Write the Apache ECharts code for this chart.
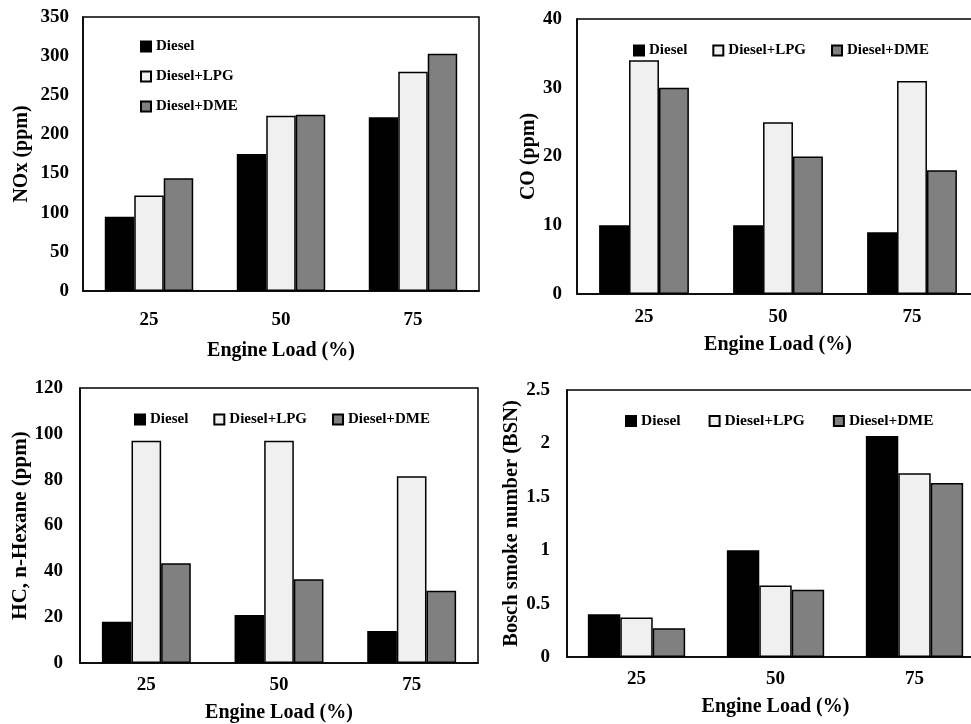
<!DOCTYPE html>
<html><head><meta charset="utf-8">
<script src="https://cdn.jsdelivr.net/npm/echarts@6/dist/echarts.min.js"></script>
<style>html,body{margin:0;padding:0;background:#fff}#c{width:971px;height:724px}</style>
</head><body><div id="c"></div>
<script>
const categories = ['25', '50', '75'];
const seriesNames = ['Diesel', 'Diesel+LPG', 'Diesel+DME'];
// NOx (ppm)
const noxDiesel = [95, 175, 222];
const noxLPG = [122, 224, 280];
const noxDME = [144, 225, 303];
// CO (ppm)
const coDiesel = [10, 10, 9];
const coLPG = [34, 25, 31];
const coDME = [30, 20, 18];
// HC, n-Hexane (ppm)
const hcDiesel = [18, 21, 14];
const hcLPG = [97, 97, 81.5];
const hcDME = [43.5, 36.5, 31.5];
// Bosch smoke number
const bsnDiesel = [0.40, 1.0, 2.07];
const bsnLPG = [0.37, 0.67, 1.72];
const bsnDME = [0.27, 0.63, 1.63];

const FONT = "'Liberation Serif','Times New Roman',serif";
const colors = ['#000000', '#f0f0f0', '#808080'];
const txt = {color:'#000', fontFamily: FONT, fontWeight:'bold'};

const grids = [
  {left:83, top:17, width:396, height:274},
  {left:577, top:19, width:402, height:275},
  {left:80, top:388, width:398, height:275},
  {left:567, top:390, width:417, height:267}
];
const panels = [
  {data:[noxDiesel,noxLPG,noxDME], max:350, interval:50, yName:'NOx (ppm)', xMargin:20, xGap:50, yGap:51, yMargin:14, gap:'33%', nameSize:20},
  {data:[coDiesel,coLPG,coDME], max:40, interval:10, yName:'CO (ppm)', xMargin:14, xGap:41, yGap:37, yMargin:15, gap:'33%', nameSize:20},
  {data:[hcDiesel,hcLPG,hcDME], max:120, interval:20, yName:'HC, n-Hexane (ppm)', xMargin:13, xGap:40, yGap:44, yMargin:17, gap:'33%', nameSize:21},
  {data:[bsnDiesel,bsnLPG,bsnDME], max:2.5, interval:0.5, yName:'Bosch smoke number (BSN)', xMargin:13, xGap:40, yGap:43, yMargin:17, gap:'30%', nameSize:20.5}
];

const xAxis = [], yAxis = [], series = [];
panels.forEach((p, i) => {
  xAxis.push({
    type:'category', gridIndex:i, data:categories,
    name:'Engine Load (%)', nameLocation:'middle', nameGap:p.xGap,
    nameTextStyle:Object.assign({fontSize:20}, txt),
    axisLine:{show:true, lineStyle:{color:'#000', width:1.5}},
    axisTick:{show:false},
    axisLabel:Object.assign({fontSize:19, margin:p.xMargin}, txt)
  });
  yAxis.push({
    type:'value', gridIndex:i, min:0, max:p.max, interval:p.interval,
    name:p.yName, nameLocation:'middle', nameGap:p.yGap, nameRotate:90,
    nameTextStyle:Object.assign({fontSize:p.nameSize}, txt),
    axisLine:{show:true, lineStyle:{color:'#000', width:1.5}},
    axisTick:{show:false},
    splitLine:{show:false},
    axisLabel:Object.assign({fontSize:19, margin:p.yMargin}, txt)
  });
  p.data.forEach((d, k) => {
    series.push({
      type:'bar', name:seriesNames[k], xAxisIndex:i, yAxisIndex:i, data:d,
      barGap:'0%', barCategoryGap:p.gap,
      itemStyle:{color:colors[k], borderColor:'#000', borderWidth:1.5},
      emphasis:{disabled:true}
    });
  });
});

const legendBase = {
  icon:'rect', itemWidth:10, itemHeight:10,
  textStyle:Object.assign({fontSize:15}, txt),
  selectedMode:false,
  data:seriesNames
};
const legends = [
  Object.assign({}, legendBase, {orient:'vertical', left:135, top:34, itemGap:15}),
  Object.assign({}, legendBase, {orient:'horizontal', left:628, top:38, itemGap:25}),
  Object.assign({}, legendBase, {orient:'horizontal', left:129, top:407, itemGap:25}),
  Object.assign({}, legendBase, {orient:'horizontal', left:620, top:408, itemGap:28, textStyle:Object.assign({fontSize:15.5}, txt)})
];

const chart = echarts.init(document.getElementById('c'), null, {renderer:'canvas'});
chart.setOption({
  animation:false,
  backgroundColor:'#fff',
  grid:grids.map(g => Object.assign({show:true, borderColor:'#000', borderWidth:1.5, backgroundColor:'transparent', containLabel:false, outerBoundsMode:'none'}, g)),
  legend:legends,
  xAxis, yAxis, series
});
</script></body></html>
